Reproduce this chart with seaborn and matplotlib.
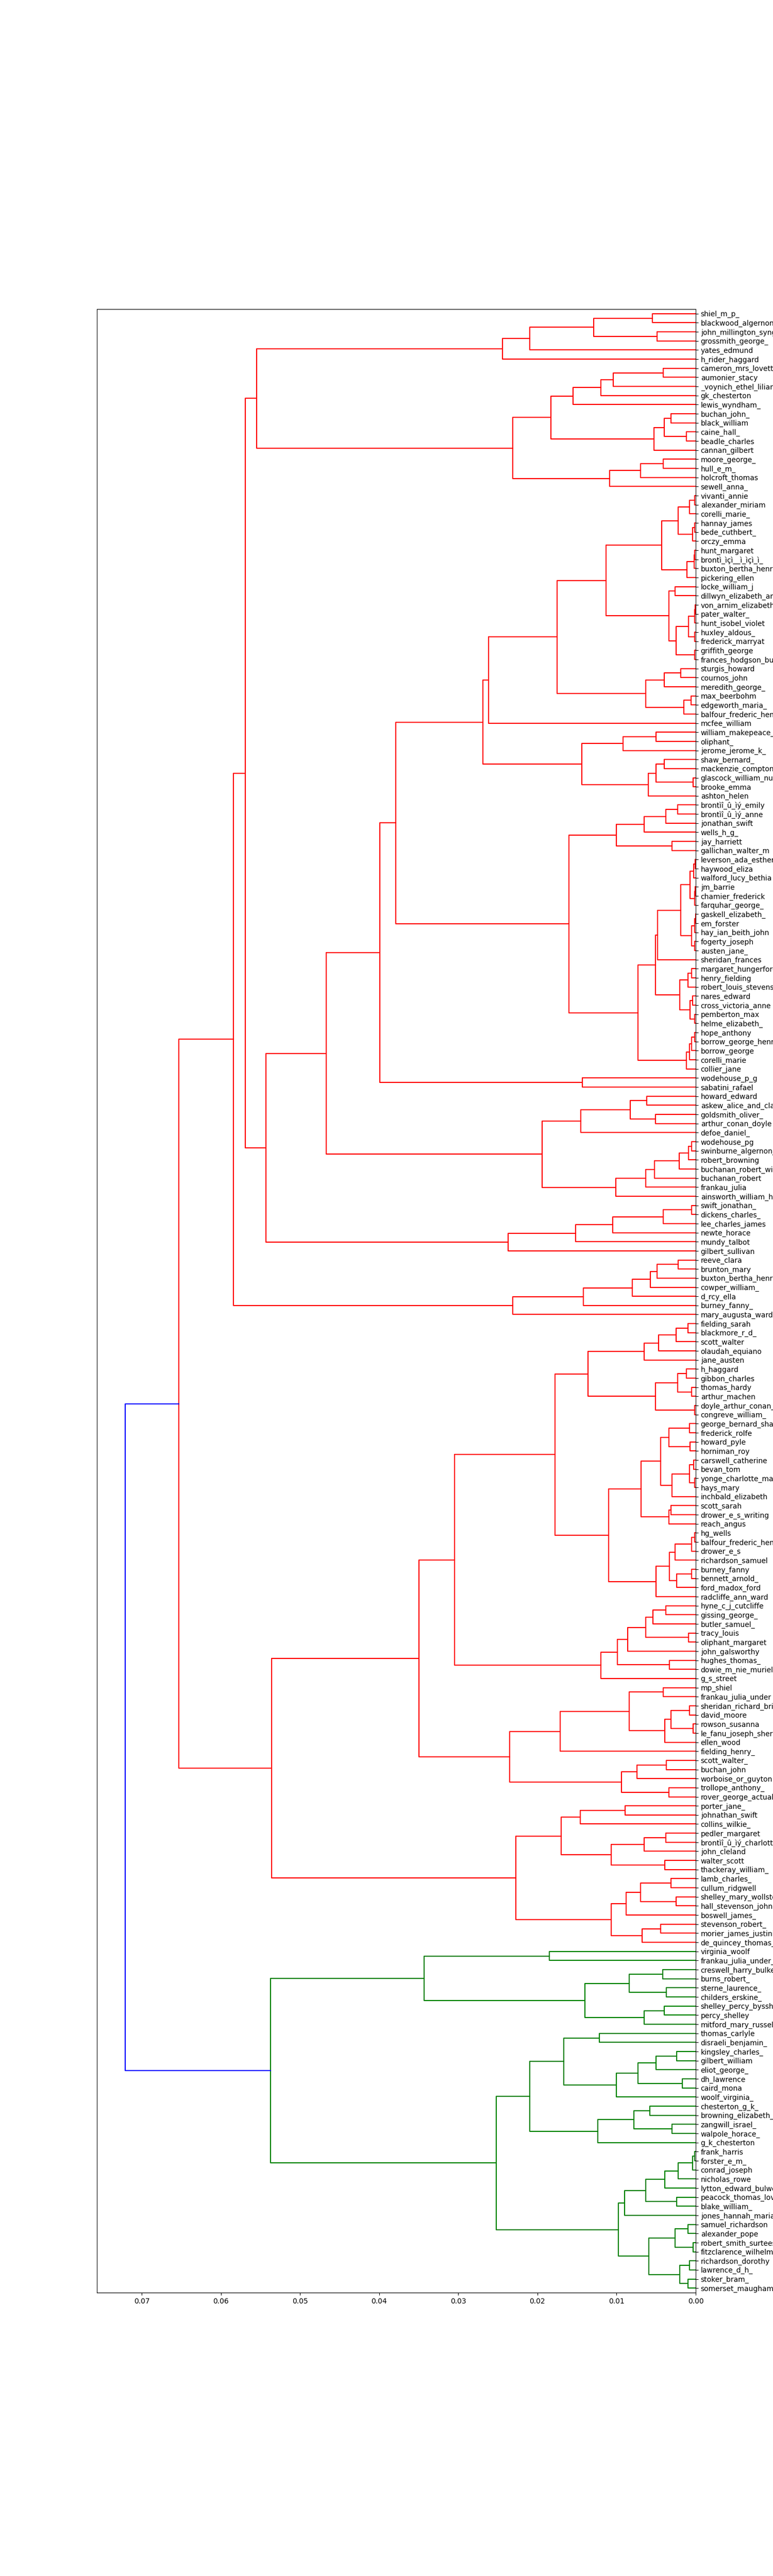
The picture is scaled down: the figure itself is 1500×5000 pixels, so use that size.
import matplotlib
matplotlib.use("Agg")
import matplotlib.pyplot as plt
import pandas as pd
import seaborn as sns

# leaf labels, top to bottom
labels_a = [
    "shiel_m_p_", "blackwood_algernon_", "john_millington_synge", "grossmith_george_",
    "yates_edmund", "h_rider_haggard", "cameron_mrs_lovett_", "aumonier_stacy",
    "_voynich_ethel_lilian_", "gk_chesterton", "lewis_wyndham_", "buchan_john_",
    "black_william", "caine_hall_", "beadle_charles", "cannan_gilbert",
    "moore_george_", "hull_e_m_", "holcroft_thomas", "sewell_anna_",
]
labels_p = [
    "vivanti_annie", "alexander_miriam", "corelli_marie_", "hannay_james",
    "bede_cuthbert_", "orczy_emma", "hunt_margaret", "brontì_ìçì__ì_ìçì_ì_",
    "buxton_bertha_henry_", "pickering_ellen", "locke_william_j", "dillwyn_elizabeth_amy",
    "von_arnim_elizabeth_", "pater_walter_", "hunt_isobel_violet", "huxley_aldous_",
    "frederick_marryat", "griffith_george", "frances_hodgson_burnett", "sturgis_howard",
    "cournos_john", "meredith_george_", "max_beerbohm", "edgeworth_maria_",
    "balfour_frederic_henry", "mcfee_william", "william_makepeace_thackeray", "oliphant_",
    "jerome_jerome_k_", "shaw_bernard_", "mackenzie_compton", "glascock_william_nugent",
    "brooke_emma", "ashton_helen", "brontìî_û_ìý_emily", "brontìî_û_ìý_anne",
    "jonathan_swift", "wells_h_g_", "jay_harriett", "gallichan_walter_m",
    "leverson_ada_esther", "haywood_eliza", "walford_lucy_bethia", "jm_barrie",
    "chamier_frederick", "farquhar_george_", "gaskell_elizabeth_", "em_forster",
    "hay_ian_beith_john", "fogerty_joseph", "austen_jane_", "sheridan_frances",
    "margaret_hungerford", "henry_fielding", "robert_louis_stevenson", "nares_edward",
    "cross_victoria_anne", "pemberton_max", "helme_elizabeth_", "hope_anthony",
    "borrow_george_henry", "borrow_george", "corelli_marie", "collier_jane",
]
labels_c = [
    "wodehouse_p_g", "sabatini_rafael", "howard_edward", "askew_alice_and_claude",
    "goldsmith_oliver_", "arthur_conan_doyle", "defoe_daniel_", "wodehouse_pg",
    "swinburne_algernon_charles", "robert_browning", "buchanan_robert_williams",
    "buchanan_robert", "frankau_julia", "ainsworth_william_harrison", "swift_jonathan_",
    "dickens_charles_", "lee_charles_james", "newte_horace", "mundy_talbot",
    "gilbert_sullivan", "reeve_clara", "brunton_mary", "buxton_bertha_henry",
    "cowper_william_", "d_rcy_ella", "burney_fanny_", "mary_augusta_ward",
]
labels_r2 = [
    "fielding_sarah", "blackmore_r_d_", "scott_walter", "olaudah_equiano", "jane_austen",
    "h_haggard", "gibbon_charles", "thomas_hardy", "arthur_machen", "doyle_arthur_conan_",
    "congreve_william_", "george_bernard_shaw", "frederick_rolfe", "howard_pyle",
    "horniman_roy", "carswell_catherine", "bevan_tom", "yonge_charlotte_mary", "hays_mary",
    "inchbald_elizabeth", "scott_sarah", "drower_e_s_writing", "reach_angus", "hg_wells",
    "balfour_frederic_henry_", "drower_e_s", "richardson_samuel", "burney_fanny",
    "bennett_arnold_", "ford_madox_ford", "radcliffe_ann_ward", "hyne_c_j_cutcliffe",
    "gissing_george_", "butler_samuel_", "tracy_louis", "oliphant_margaret",
    "john_galsworthy", "hughes_thomas_", "dowie_m_nie_muriel", "g_s_street", "mp_shiel",
    "frankau_julia_under", "sheridan_richard_brinsley", "david_moore", "rowson_susanna",
    "le_fanu_joseph_sheridan", "ellen_wood", "fielding_henry_", "scott_walter_",
    "buchan_john", "worboise_or_guyton", "trollope_anthony_", "rover_george_actual",
    "porter_jane_", "johnathan_swift", "collins_wilkie_", "pedler_margaret",
    "brontìî_û_ìý_charlotte", "john_cleland", "walter_scott", "thackeray_william_",
    "lamb_charles_", "cullum_ridgwell", "shelley_mary_wollstonecraft",
    "hall_stevenson_john", "boswell_james_", "stevenson_robert_",
    "morier_james_justinian", "de_quincey_thomas_",
]
labels_g = [
    "virginia_woolf", "frankau_julia_under_", "creswell_harry_bulkeley", "burns_robert_",
    "sterne_laurence_", "childers_erskine_", "shelley_percy_bysshe", "percy_shelley",
    "mitford_mary_russell", "thomas_carlyle", "disraeli_benjamin_", "kingsley_charles_",
    "gilbert_william", "eliot_george_", "dh_lawrence", "caird_mona", "woolf_virginia_",
    "chesterton_g_k_", "browning_elizabeth_barrett", "zangwill_israel_", "walpole_horace_",
    "g_k_chesterton", "frank_harris", "forster_e_m_", "conrad_joseph", "nicholas_rowe",
    "lytton_edward_bulwer", "peacock_thomas_love", "blake_william_", "jones_hannah_maria",
    "samuel_richardson", "alexander_pope", "robert_smith_surtees",
    "fitzclarence_wilhelmina", "richardson_dorothy", "lawrence_d_h_", "stoker_bram_",
    "somerset_maugham",
]
leaf_labels = labels_a + labels_p + labels_c + labels_r2 + labels_g

# merges as [height, upper child, lower child]; ints are leaf indices
a1 = [0.0244, [0.0210, [0.0129, [0.0055, 0, 1], [0.0049, 2, 3]], 4], 5]
b1 = [0.0231,
      [0.0183,
       [0.0155, [0.0120, [0.0104, [0.0041, 6, 7], 8], 9], 10],
       [0.0053, [0.0040, [0.0031, 11, 12], [0.0012, 13, 14]], 15]],
      [0.0109, [0.0070, [0.0041, 16, 17], 18], 19]]
t20_38 = [0.0113,
          [0.0043,
           [0.0022, [0.0008, [0.0001, 20, 21], 22], [0.0004, [0.0001, 23, 24], 25]],
           [0.0011, [0.0002, [0.0001, 26, 27], 28], 29]],
          [0.0034, [0.0026, 30, 31],
           [0.0025, [0.0009, [0.00015, [0.00005, 32, 33], 34], [0.0001, 35, 36]],
            [0.0001, 37, 38]]]]
t39_44 = [0.0063, [0.0040, [0.0019, 39, 40], 41], [0.0015, [0.0006, 42, 43], 44]]
t46_53 = [0.0144, [0.0092, [0.0050, 46, 47], 48],
          [0.0060, [0.0050, [0.0040, 49, 50], [0.0003, 51, 52]], 53]]
t20_53 = [0.0269, [0.0262, [0.0175, t20_38, t39_44], 45], t46_53]
t54_59 = [0.0100, [0.0065, [0.0038, [0.0023, 54, 55], 56], 57], [0.0030, 58, 59]]
t60_83 = [0.0073,
          [0.0051,
           [0.0048,
            [0.0019,
             [0.0007, [0.00025, [0.00005, 60, 61], 62], [0.0001, [0.00005, 63, 64], 65]],
             [0.0005, [0.00015, [0.00003, 66, 67], 68], [0.00015, 69, 70]]],
            71],
           [0.0020, [0.0010, [0.0005, 72, 73], 74], [0.0007, [0.0004, 75, 76], [0.00015, 77, 78]]]],
          [0.0012, [0.0008, [0.0005, [0.0001, 79, 80], 81], 82], 83]]
t86_97 = [0.0194,
          [0.0145, [0.0083, [0.0062, 86, 87], [0.0051, 88, 89]], 90],
          [0.0101, [0.0063, [0.0052, [0.0021, [0.0009, [0.0005, 91, 92], 93], 94], 95], 96], 97]]
t98_103 = [0.0237, [0.0152, [0.0105, [0.0041, [0.0005, 98, 99], 100], 101], 102], 103]
t104_110 = [0.0231, [0.0142, [0.0080, [0.0057, [0.0049, [0.0022, 104, 105], 106], 107], 108], 109], 110]
r1 = [0.0584,
      [0.0569,
       [0.0555, a1, b1],
       [0.0543, [0.0467, [0.0399, [0.0379, t20_53, [0.0160, t54_59, t60_83]], [0.0143, 84, 85]], t86_97],
        t98_103]],
      t104_110]

t111_121 = [0.0136, [0.0065, [0.0047, [0.0025, [0.0010, 111, 112], 113], 114], 115],
            [0.0051, [0.0023, [0.0012, 116, 117], [0.0005, 118, 119]], [0.0001, 120, 121]]]
t122_133 = [0.0069,
            [0.0044, [0.0034, [0.0008, 122, 123], [0.0007, 124, 125]],
             [0.0030, [0.0008, [0.00025, 126, 127], [0.0001, 128, 129]], 130]],
            [0.0034, [0.0031, 131, 132], 133]]
t134_141 = [0.0050, [0.0033, [0.0026, [0.0005, [0.0001, 134, 135], 136], 137],
                     [0.0024, [0.0005, 138, 139], 140]], 141]
t142_150 = [0.0120, [0.0099, [0.0086, [0.0063, [0.0054, [0.0038, 142, 143], 144], [0.0009, 145, 146]], 147],
                     [0.0033, 148, 149]], 150]
t151_163 = [0.0235,
            [0.0171, [0.0084, [0.0041, 151, 152], [0.0039, [0.0031, [0.0008, 153, 154], [0.0003, 155, 156]], 157]], 158],
            [0.0094, [0.0074, [0.0037, 159, 160], 161], [0.0034, 162, 163]]]
t164_171 = [0.0170, [0.0146, [0.0089, 164, 165], 166],
            [0.0107, [0.0065, [0.0038, 167, 168], 169], [0.0039, 170, 171]]]
t172_179 = [0.0107, [0.0088, [0.0070, [0.0031, 172, 173], [0.0025, 174, 175]], 176],
            [0.0068, [0.0044, 177, 178], 179]]
r2 = [0.0536,
      [0.0350, [0.0305, [0.0178, t111_121, [0.0110, t122_133, t134_141]], t142_150], t151_163],
      [0.0227, t164_171, t172_179]]

g1 = [0.0343, [0.0185, 180, 181],
      [0.0140, [0.0084, [0.0042, 182, 183], [0.0037, 184, 185]], [0.0065, [0.0040, 186, 187], 188]]]
t189_201 = [0.0210,
            [0.0167, [0.0122, 189, 190],
             [0.0100, [0.0073, [0.0050, [0.0024, 191, 192], 193], [0.0017, 194, 195]], 196]],
            [0.0124, [0.0078, [0.0058, 197, 198], [0.0030, 199, 200]], 201]]
t202_217 = [0.0098,
            [0.0090, [0.0063, [0.0039, [0.0022, [0.0004, [0.0001, 202, 203], 204], 205], 206],
                      [0.0024, 207, 208]], 209],
            [0.0059, [0.0026, [0.0010, 210, 211], [0.0003, 212, 213]],
             [0.0020, [0.0008, 214, 215], [0.0010, 216, 217]]]]
green = [0.0537, g1, [0.0252, t189_201, t202_217]]
red = [0.0653, r1, r2]
root_height = 0.0721

n_leaves = len(leaf_labels)
leaf_pos = [10 * (n_leaves - 1 - i) + 5 for i in range(n_leaves)]

rows = []


def add_link(h, yu, hu, yl, hl, cluster):
    link = len(rows) // 4
    for x, y in [(hu, yu), (h, yu), (h, yl), (hl, yl)]:
        rows.append({"height": x, "pos": y, "link": link, "cluster": cluster})


def add_links(node, cluster):
    """returns (position, height) of node, and stores its U-shaped link"""
    if isinstance(node, int):
        return leaf_pos[node], 0.0
    h, upper, lower = node
    yu, hu = add_links(upper, cluster)
    yl, hl = add_links(lower, cluster)
    add_link(h, yu, hu, yl, hl, cluster)
    return (yu + yl) / 2, h


y_red, h_red = add_links(red, "r")
y_green, h_green = add_links(green, "g")
add_link(root_height, y_red, h_red, y_green, h_green, "b")
links = pd.DataFrame(rows)

sns.set_style("ticks", {
    "axes.edgecolor": "black", "xtick.color": "black", "ytick.color": "black",
    "text.color": "black", "axes.labelcolor": "black",
})
plt.rcParams["font.family"] = ["DejaVu Sans"]
plt.rcParams["lines.solid_capstyle"] = "projecting"

fig, ax = plt.subplots(figsize=(15, 50), dpi=100)
sns.lineplot(
    data=links, x="height", y="pos", units="link", estimator=None, sort=False,
    hue="cluster", palette={"r": "red", "g": "green", "b": "blue"},
    linewidth=1.5, legend=False, ax=ax,
)
ax.set_xlim(root_height * 1.05, 0)
ax.set_ylim(0, 10 * n_leaves)
ax.yaxis.tick_right()
ax.set_yticks(leaf_pos)
ax.set_yticklabels(leaf_labels, fontsize=10)
ax.set_xlabel("")
ax.set_ylabel("")

fig.savefig("out.png", dpi=100)
